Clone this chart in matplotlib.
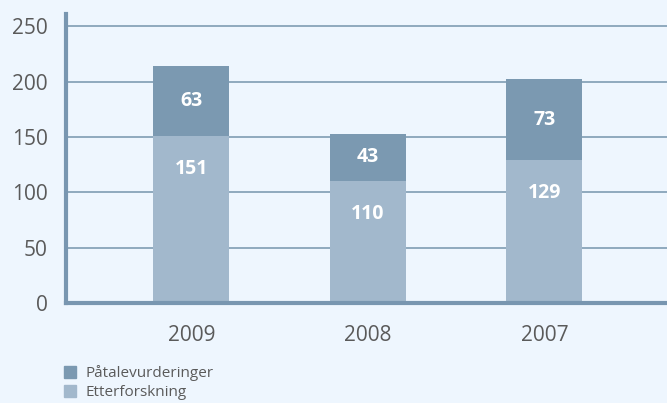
import matplotlib as mpl
import matplotlib.pyplot as plt
from matplotlib.patches import Patch

years = ['2009', '2008', '2007']
etterforskning = [151, 110, 129]
patale = [63, 43, 73]

bg = '#eef6fe'
dark = '#7b99b1'
light = '#a2b8cc'
grid = '#8fa9be'
txt = '#5a5a5a'

mpl.rcParams['font.family'] = ['Open Sans', 'DejaVu Sans']

fig = plt.figure(figsize=(6.67, 4.03), dpi=100, facecolor=bg)
ax = fig.add_axes([0.099, 0.2481, 0.905, 0.717], facecolor=bg)

x = range(len(years))
ax.bar(x, etterforskning, width=0.43, color=light, zorder=3)
ax.bar(x, patale, width=0.43, bottom=etterforskning, color=dark, zorder=3)

for i in x:
    ax.text(i, etterforskning[i] - 30, str(etterforskning[i]), ha='center', va='center',
            color='white', fontsize=14, fontweight='bold', zorder=4)
    ax.text(i, etterforskning[i] + patale[i] / 2, str(patale[i]), ha='center', va='center',
            color='white', fontsize=14, fontweight='bold', zorder=4)

ax.set_xlim(-0.71, 2.71)
ax.set_ylim(0, 261)
ax.set_yticks([0, 50, 100, 150, 200, 250])
ax.set_xticks(list(x))
ax.set_xticklabels(years)
ax.tick_params(axis='both', length=0, labelsize=15, colors=txt)
ax.tick_params(axis='y', pad=13)
ax.tick_params(axis='x', pad=16)
ax.yaxis.grid(True, color=grid, lw=1.4, zorder=0)
for s in ['top', 'right']:
    ax.spines[s].set_visible(False)
for s in ['left', 'bottom']:
    ax.spines[s].set_color('#7896b0')
    ax.spines[s].set_linewidth(3)
    ax.spines[s].set_zorder(5)

handles = [Patch(color=dark, label='Påtalevurderinger'),
           Patch(color=light, label='Etterforskning')]
fig.legend(handles=handles, loc='upper left', bbox_to_anchor=(0.096, 0.0943),
           frameon=False, fontsize=11, labelcolor=txt, handlelength=0.8,
           handleheight=0.8, handletextpad=0.6, labelspacing=0.25, borderpad=0,
           borderaxespad=0)

fig.savefig('out.png', dpi=100, facecolor=bg)
